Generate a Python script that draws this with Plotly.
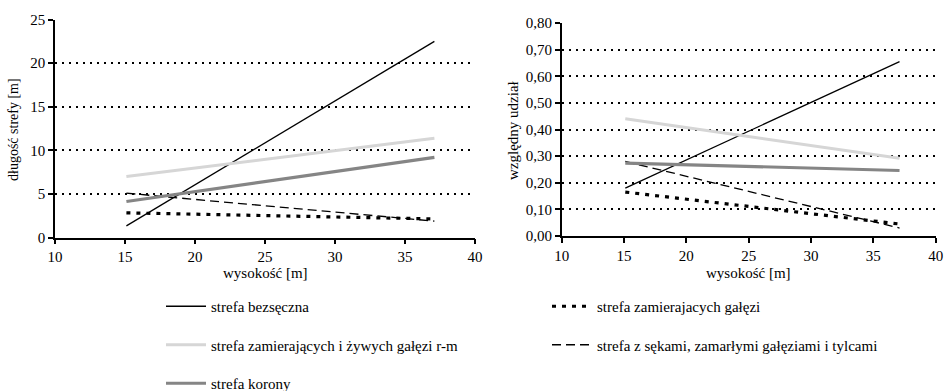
import plotly.graph_objects as go

# ---- data ----
heights = [15.1, 37.1]
series_names = [
    "strefa bezsęczna",
    "strefa zamierajacych gałęzi",
    "strefa zamierających i żywych gałęzi r-m",
    "strefa z sękami, zamarłymi gałęziami i tylcami",
    "strefa korony",
]
# left panel: długość strefy [m]
len_bezseczna = [1.35, 22.5]
len_zamier = [2.85, 2.15]
len_rm = [7.0, 11.4]
len_seki = [5.1, 1.9]
len_korona = [4.15, 9.2]
# right panel: względny udział
rel_bezseczna = [0.18, 0.655]
rel_zamier = [0.165, 0.045]
rel_rm = [0.44, 0.292]
rel_seki = [0.28, 0.03]
rel_korona = [0.274, 0.246]

x_ticks = [10, 15, 20, 25, 30, 35, 40]
y_ticks_left = [0, 5, 10, 15, 20, 25]
y_ticks_right = [0, 0.1, 0.2, 0.3, 0.4, 0.5, 0.6, 0.7, 0.8]

W, H = 945, 391
FONT = "'Liberation Serif', 'Times New Roman', Times, 'DejaVu Serif', serif"

styles = [
    dict(color="black", width=1.3),
    dict(color="black", width=3.2, dash="4px,6px"),
    dict(color="#d6d6d6", width=3),
    dict(color="black", width=1.3, dash="9px,5px"),
    dict(color="#858585", width=3.2),
]
legend_of = ["legend", "legend2", "legend", "legend2", "legend"]

left_vals = [len_bezseczna, len_zamier, len_rm, len_seki, len_korona]
right_vals = [rel_bezseczna, rel_zamier, rel_rm, rel_seki, rel_korona]

fig = go.Figure()
for i, name in enumerate(series_names):
    fig.add_trace(go.Scatter(x=heights, y=left_vals[i], mode="lines", name=name,
                             line=styles[i], xaxis="x", yaxis="y",
                             legend=legend_of[i], legendgroup=f"g{i}", showlegend=True))
for i, name in enumerate(series_names):
    fig.add_trace(go.Scatter(x=heights, y=right_vals[i], mode="lines", name=name,
                             line=styles[i], xaxis="x2", yaxis="y2",
                             legendgroup=f"g{i}", showlegend=False))

def px_x(p):
    return p / W

def px_y(p):
    return 1 - p / H

axis_common = dict(showline=True, linecolor="black", linewidth=1.5, ticks="outside",
                   ticklen=5, tickcolor="black", tickwidth=1.5, automargin=False,
                   tickfont=dict(family=FONT, size=15, color="black"), zeroline=False)

fig.update_layout(
    width=W, height=H, margin=dict(l=0, r=0, t=0, b=0, autoexpand=False),
    paper_bgcolor="white", plot_bgcolor="white",
    font=dict(family=FONT, color="black"),
    separators=", ",
    xaxis=dict(domain=[px_x(55), px_x(475)], range=[10, 40], tickvals=x_ticks,
               showgrid=False, anchor="y", **axis_common),
    yaxis=dict(domain=[px_y(237.7), px_y(19.5)], range=[0, 25], tickvals=y_ticks_left,
               showgrid=True, gridcolor="black", gridwidth=1.5, griddash="2px,5px",
               anchor="x", **axis_common),
    xaxis2=dict(domain=[px_x(561.7), px_x(935.7)], range=[10, 40], tickvals=x_ticks,
                showgrid=False, anchor="y2", **axis_common),
    yaxis2=dict(domain=[px_y(236), px_y(23)], range=[0, 0.8], tickvals=y_ticks_right,
                tickformat=".2f", showgrid=True, gridcolor="black", gridwidth=1.5,
                griddash="2px,5px", anchor="x2", **axis_common),
    legend=dict(x=px_x(161), y=px_y(290), xanchor="left", yanchor="top",
                orientation="v", traceorder="grouped", tracegroupgap=16,
                font=dict(family=FONT, size=15, color="black"),
                bgcolor="rgba(0,0,0,0)", itemwidth=40),
    legend2=dict(x=px_x(547), y=px_y(290), xanchor="left", yanchor="top",
                 orientation="v", traceorder="grouped", tracegroupgap=16,
                 font=dict(family=FONT, size=15, color="black"),
                 bgcolor="rgba(0,0,0,0)", itemwidth=40),
    annotations=[
        dict(text="wysokość [m]", x=px_x(265), y=px_y(273), xref="paper", yref="paper",
             showarrow=False, font=dict(family=FONT, size=15), xanchor="center", yanchor="middle"),
        dict(text="wysokość [m]", x=px_x(748.7), y=px_y(273), xref="paper", yref="paper",
             showarrow=False, font=dict(family=FONT, size=15), xanchor="center", yanchor="middle"),
        dict(text="długość strefy [m]", x=px_x(14), y=px_y(130), xref="paper", yref="paper",
             showarrow=False, textangle=-90, font=dict(family=FONT, size=14),
             xanchor="center", yanchor="middle"),
        dict(text="względny udział", x=px_x(513), y=px_y(130), xref="paper", yref="paper",
             showarrow=False, textangle=-90, font=dict(family=FONT, size=15),
             xanchor="center", yanchor="middle"),
    ],
)

fig.write_html("out.html", config={"displayModeBar": False},
               post_script="document.body.style.margin='0';document.body.style.overflow='hidden';")
